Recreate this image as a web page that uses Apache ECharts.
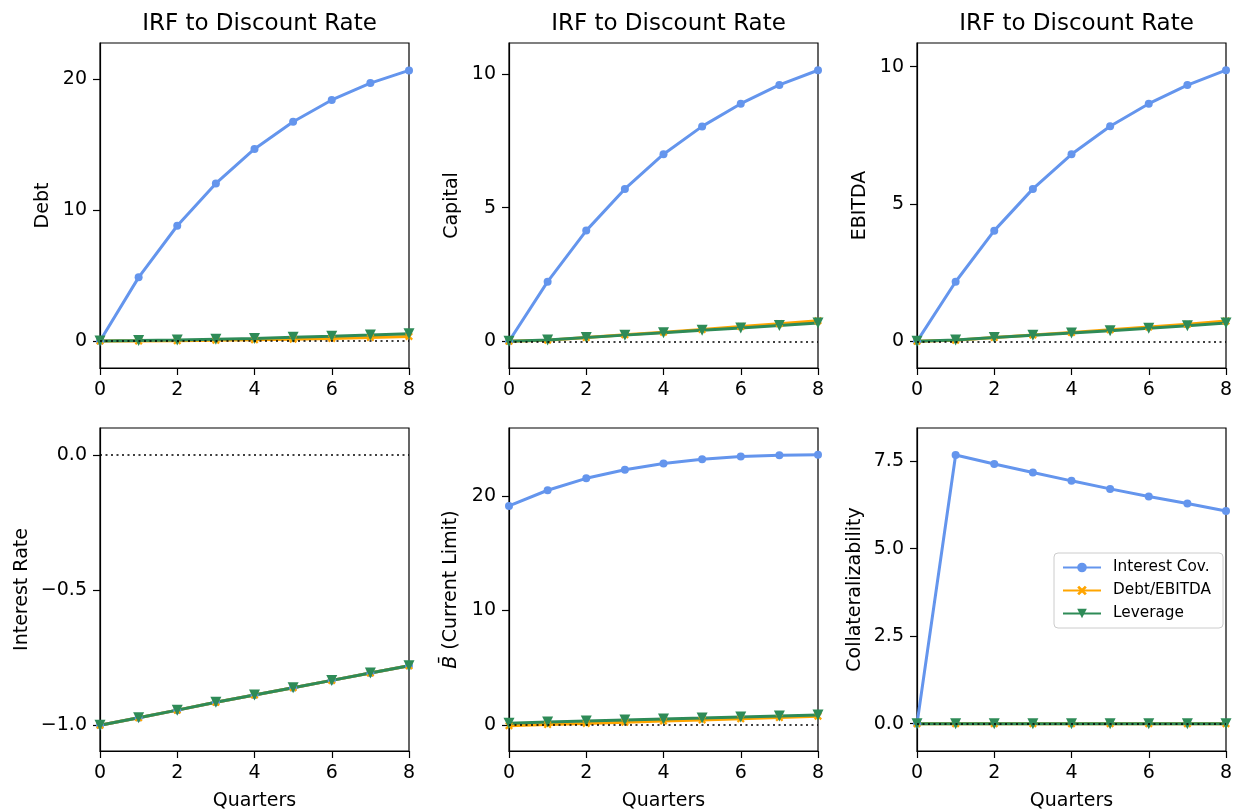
<!DOCTYPE html>
<html>
<head>
<meta charset="utf-8">
<script src="https://cdn.jsdelivr.net/npm/echarts@6/dist/echarts.min.js"></script>
<style>
  html, body { margin: 0; padding: 0; background: #fff; }
  #chart { width: 1236px; height: 812px; }
</style>
</head>
<body>
<div id="chart"></div>
<script>
var quarters = [0, 1, 2, 3, 4, 5, 6, 7, 8];
var seriesNames = ['Interest Cov.', 'Debt/EBITDA', 'Leverage'];

// Debt
var debtIC = [0, 4.86, 8.80, 12.03, 14.66, 16.74, 18.40, 19.69, 20.66];
var debtDE = [0, 0.0, 0.02, 0.05, 0.09, 0.14, 0.20, 0.27, 0.35];
var debtLev = [0, 0.03, 0.08, 0.14, 0.20, 0.28, 0.36, 0.45, 0.55];
// Capital
var capIC = [0, 2.23, 4.14, 5.70, 7.00, 8.04, 8.89, 9.59, 10.14];
var capDE = [0, 0.04, 0.14, 0.24, 0.34, 0.44, 0.55, 0.66, 0.77];
var capLev = [0, 0.05, 0.14, 0.23, 0.32, 0.41, 0.50, 0.59, 0.68];
// EBITDA
var ebitdaIC = [0, 2.17, 4.03, 5.55, 6.81, 7.83, 8.65, 9.33, 9.87];
var ebitdaDE = [0, 0.04, 0.14, 0.23, 0.32, 0.42, 0.52, 0.62, 0.74];
var ebitdaLev = [0, 0.05, 0.14, 0.22, 0.30, 0.39, 0.48, 0.57, 0.67];
// Interest Rate
var rateIC = [-1.0, -0.972, -0.944, -0.915, -0.888, -0.861, -0.834, -0.807, -0.780];
var rateDE = [-1.0, -0.972, -0.944, -0.915, -0.888, -0.861, -0.834, -0.807, -0.780];
var rateLev = [-1.0, -0.972, -0.944, -0.915, -0.888, -0.861, -0.834, -0.807, -0.780];
// B bar (current limit)
var limitIC = [19.12, 20.49, 21.53, 22.28, 22.83, 23.20, 23.44, 23.55, 23.58];
var limitDE = [-0.05, 0.05, 0.15, 0.25, 0.35, 0.45, 0.55, 0.66, 0.78];
var limitLev = [0.17, 0.26, 0.35, 0.44, 0.53, 0.61, 0.70, 0.79, 0.87];
// Collateralizability
var collIC = [0, 7.68, 7.42, 7.18, 6.94, 6.71, 6.49, 6.29, 6.08];
var collDE = [0, 0, 0, 0, 0, 0, 0, 0, 0];
var collLev = [0, 0, 0, 0, 0, 0, 0, 0, 0];

var panels = [
  { title: 'IRF to Discount Rate', ylabel: 'Debt', ic: debtIC, de: debtDE, lev: debtLev,
    ymin: -2.06, ymax: 22.75, yticks: [0, 10, 20], dec: 0, nameGap: 47 },
  { title: 'IRF to Discount Rate', ylabel: 'Capital', ic: capIC, de: capDE, lev: capLev,
    ymin: -1.0, ymax: 11.16, yticks: [0, 5, 10], dec: 0, nameGap: 47 },
  { title: 'IRF to Discount Rate', ylabel: 'EBITDA', ic: ebitdaIC, de: ebitdaDE, lev: ebitdaLev,
    ymin: -0.97, ymax: 10.86, yticks: [0, 5, 10], dec: 0, nameGap: 47 },
  { ylabel: 'Interest Rate', ic: rateIC, de: rateDE, lev: rateLev,
    ymin: -1.095, ymax: 0.099, yticks: [-1.0, -0.5, 0.0], dec: 1, nameGap: 68 },
  { ylabel: '{i|B\u0304} (Current Limit)', ic: limitIC, de: limitDE, lev: limitLev,
    ymin: -2.26, ymax: 25.92, yticks: [0, 10, 20], dec: 0, nameGap: 48 },
  { ylabel: 'Collateralizability', ic: collIC, de: collDE, lev: collLev,
    ymin: -0.78, ymax: 8.45, yticks: [0, 2.5, 5, 7.5], dec: 1, nameGap: 52 }
];

var lefts = [100, 509, 917];
var tops = [43, 428];
var W = 309, H = 325;
var font = 'DejaVu Sans';

var xMark = 'path://M2,0 L5,3 L8,0 L10,2 L7,5 L10,8 L8,10 L5,7 L2,10 L0,8 L3,5 L0,2 Z';

function fmt(v, dec) {
  var s = Number(v).toFixed(dec);
  return s.replace('-', '\u2212');
}

function pts(arr) {
  return quarters.map(function (q, i) { return [q, arr[i]]; });
}

var grid = [], xAxis = [], yAxis = [], series = [], titles = [];

panels.forEach(function (p, k) {
  var col = k % 3, row = Math.floor(k / 3);
  grid.push({
    left: lefts[col], top: tops[row], width: W, height: H,
    show: true, borderColor: '#000', borderWidth: 1.2, backgroundColor: 'transparent'
  });
  xAxis.push({
    gridIndex: k, type: 'value', min: 0, max: 8, interval: 2,
    name: row === 1 ? 'Quarters' : '', nameLocation: 'middle', nameGap: 41,
    nameTextStyle: { fontFamily: font, fontSize: 19, color: '#000' },
    axisLine: { show: true, onZero: false, lineStyle: { color: '#000', width: 1.2 } },
    axisTick: { show: true, inside: false, length: 7, lineStyle: { color: '#000', width: 1.2 } },
    axisLabel: { margin: 13, fontFamily: font, fontSize: 19, color: '#000' },
    splitLine: { show: false }
  });
  yAxis.push({
    gridIndex: k, type: 'value', min: p.ymin, max: p.ymax,
    name: p.ylabel, nameLocation: 'middle', nameGap: p.nameGap,
    nameTextStyle: {
      fontFamily: font, fontSize: 19, color: '#000',
      rich: { i: { fontFamily: font, fontSize: 19, fontStyle: 'italic', color: '#000' } }
    },
    axisLine: { show: true, onZero: false, lineStyle: { color: '#000', width: 1.2 } },
    axisTick: { show: true, inside: false, length: 7, customValues: p.yticks,
      lineStyle: { color: '#000', width: 1.2 } },
    axisLabel: {
      margin: 13, fontFamily: font, fontSize: 19, color: '#000',
      customValues: p.yticks,
      formatter: (function (d) { return function (v) { return fmt(v, d); }; })(p.dec)
    },
    splitLine: { show: false }
  });
  if (p.title) {
    titles.push({
      text: p.title, left: lefts[col] + W / 2, top: 8, textAlign: 'center',
      textStyle: { fontFamily: font, fontSize: 23, fontWeight: 'normal', color: '#000' }
    });
  }
  series.push({
    name: seriesNames[0], type: 'line', xAxisIndex: k, yAxisIndex: k,
    data: pts(p.ic), symbol: 'circle', symbolSize: 8, showAllSymbol: true,
    color: '#6495ED', lineStyle: { width: 3, color: '#6495ED' },
    itemStyle: { color: '#6495ED' },
    markLine: {
      silent: true, symbol: 'none', label: { show: false },
      lineStyle: { color: '#000', width: 1.6, type: [2, 3.5] },
      data: [{ yAxis: 0 }]
    }
  });
  series.push({
    name: seriesNames[1], type: 'line', xAxisIndex: k, yAxisIndex: k,
    data: pts(p.de), symbol: xMark, symbolSize: 8, showAllSymbol: true,
    color: '#FFA500', lineStyle: { width: 3, color: '#FFA500' },
    itemStyle: { color: '#FFA500' }
  });
  series.push({
    name: seriesNames[2], type: 'line', xAxisIndex: k, yAxisIndex: k,
    data: pts(p.lev), symbol: 'triangle', symbolRotate: 180, symbolSize: 11, showAllSymbol: true,
    color: '#2E8B57', lineStyle: { width: 3, color: '#2E8B57' },
    itemStyle: { color: '#2E8B57' }
  });
});

var chart = echarts.init(document.getElementById('chart'), null, { renderer: 'canvas' });
chart.setOption({
  animation: false,
  backgroundColor: '#fff',
  title: titles,
  grid: grid,
  xAxis: xAxis,
  yAxis: yAxis,
  legend: {
    data: seriesNames, orient: 'vertical', left: 1054, top: 553,
    itemWidth: 38, itemHeight: 12, itemGap: 8,
    padding: [7, 12, 7, 8],
    backgroundColor: 'rgba(255,255,255,0.8)', borderColor: '#ccc', borderWidth: 1, borderRadius: 4,
    textStyle: { fontFamily: font, fontSize: 15.3, color: '#000', padding: [0, 0, 0, 7] }
  },
  series: series
});
</script>
</body>
</html>
